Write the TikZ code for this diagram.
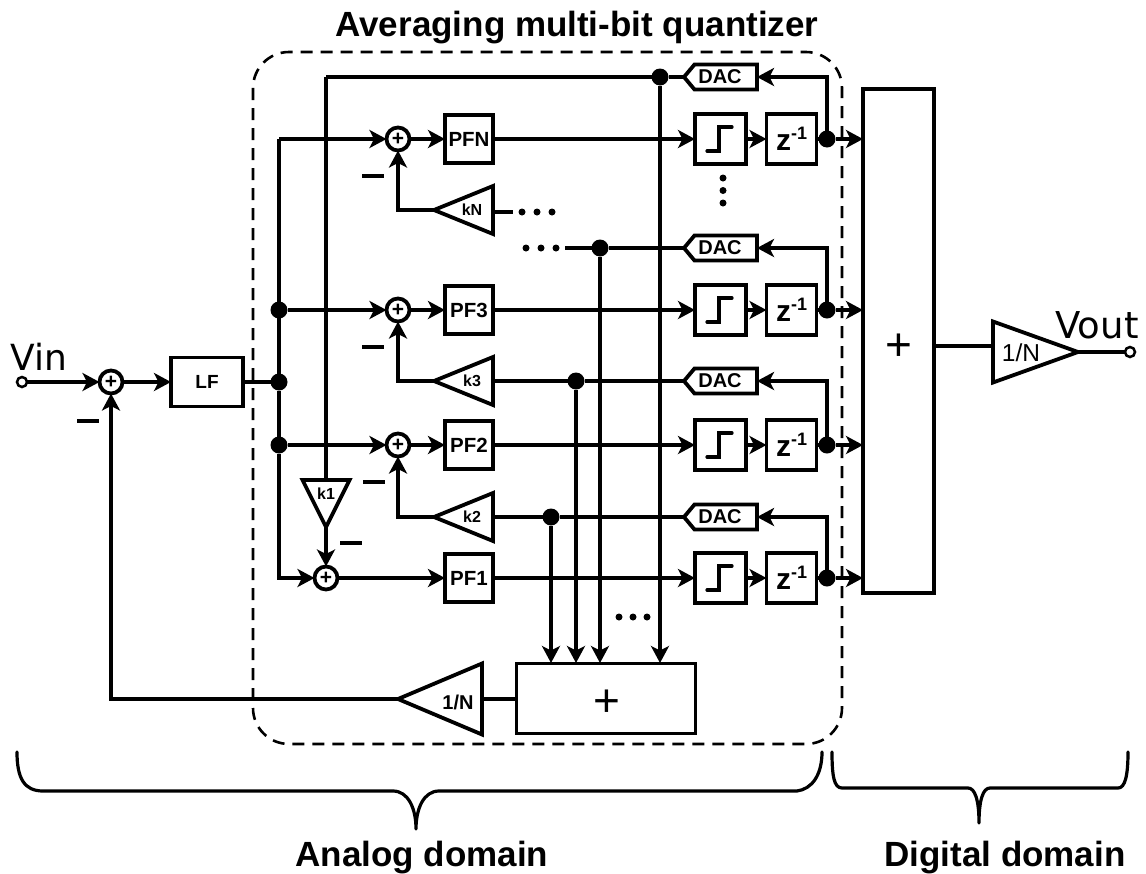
\documentclass[tikz,border=0pt]{standalone}
\usepackage{fontspec}
\setmainfont{Liberation Sans}
\newfontfamily\dejafont{DejaVu Sans}
\usetikzlibrary{arrows.meta,shapes.geometric,shapes.symbols}
\newcommand{\fsz}[1]{\fontsize{#1}{#1}\selectfont}

\begin{document}
\begin{tikzpicture}[x=1pt, y=-1pt, line width=3.8pt, line join=miter, font=\bfseries\fsz{20.5}, >={Stealth[length=17pt,width=18pt,inset=4.5pt]}]
\tikzset{
  block/.style={draw, inner sep=0pt, outer sep=0pt},
  sumnode/.style={draw, circle, fill=white, minimum size=23pt, inner sep=0pt, outer sep=0pt, font=\bfseries\fsz{21}},
  dot/.style={circle, fill=black, minimum size=17pt, inner sep=0pt, outer sep=0pt},
  smalldot/.style={circle, fill=black, minimum size=7pt, inner sep=0pt, outer sep=0pt},
  port/.style={draw, circle, fill=white, minimum size=10pt, inner sep=0pt, outer sep=0pt, line width=2.5pt},
  amp/.style={draw, isosceles triangle, isosceles triangle stretches, inner sep=0pt, outer sep=0pt, shape border rotate=#1},
  dacbox/.style={draw, signal, signal to=west, signal pointer angle=100, minimum width=73pt, minimum height=25pt, inner sep=0pt, outer sep=0pt, anchor=east},
  minus/.style={minimum width=22pt, minimum height=3.8pt, fill=black, inner sep=0pt, outer sep=0pt},
  title/.style={font=\bfseries\fsz{35}},
  brace/.style={line width=3.2pt, line cap=round, line join=round}
}
\useasboundingbox (0,0) rectangle (1146,873);

\node[title] (quantitle) at (577,28) {Averaging multi-bit quantizer};
\draw[line width=2.6pt, rounded corners=36pt, dash pattern=on 12pt off 8pt] (253,52) rectangle (842,744);

% input side
\node[port] (vin) at (22,382) {};
\node[font=\dejafont\fsz{36}, anchor=base] (vinlabel) at (39,370) {Vin};
\node[sumnode] (sum0) at (111,382) {+};
\node[block, minimum width=72pt, minimum height=49pt, font=\bfseries\fsz{19}] (lf) at (207,382) {LF};
\node[dot] (dotlf) at (279,382) {};
\node[minus] (minus0) at (88,421) {};
\draw[->] (vin) -- (sum0);
\draw[->] (sum0) -- (lf);
\draw (lf) -- (dotlf);

% rows
\foreach \nm/\lab/\y/\yd/\xs in {N/PFN/139/77/398, 3/PF3/310/248/398, 2/PF2/445/381/398, 1/PF1/578/517/326} {
  \node[sumnode] (sum\nm) at (\xs,\y) {+};
  \node[block, minimum width=48pt, minimum height=48pt] (pf\nm) at (469,\y) {\lab};
  \node[block, minimum width=51pt, minimum height=50pt] (qz\nm) at (720.5,\y) {};
  \node[block, minimum width=50pt, minimum height=50pt, font=\bfseries\fsz{30}] (zd\nm) at (791.5,\y) {z\raisebox{11pt}{\fsz{18}-1}};
  \node[dot] (out\nm) at (827,\y) {};
  \node[dacbox] (dac\nm) at (757,\yd) {};
  \node[font=\bfseries\fsz{20}] (ldac\nm) at (720,\yd) {DAC};
  \coordinate (in\nm) at (863,\y);
  \draw[->] (sum\nm) -- (pf\nm);
  \draw[->] (pf\nm) -- (qz\nm);
  \draw[->] (qz\nm) -- (zd\nm);
  \draw (zd\nm) -- (out\nm);
  \draw[->] (out\nm) -- (in\nm);
  \draw[->] (out\nm) |- (dac\nm.east);
  \draw[line width=3.2pt, line cap=round] (707,\y+12) -- (719,\y+12) -- (719,\y-12) -- (732,\y-12);
}

\foreach \y in {178,190.5,203} {\node[smalldot] (vd\y) at (723,\y) {};}

% loop gains
\foreach \nm/\lab/\y in {N/kN/210, 3/k3/381, 2/k2/517} {
  \node[amp=180, minimum width=48pt, minimum height=59pt, anchor=lower side] (k\nm) at (493,\y) {};
  \node[font=\bfseries\fsz{16}] (lk\nm) at (472,\y) {\lab};
  \draw[->] (k\nm.apex) -| (sum\nm);
}
\foreach \x/\y in {373/176, 373/347, 374/482, 351/543} {\node[minus] (m\x\y) at (\x,\y) {};}

% k1 branch
\coordinate (topk) at (326,77);
\node[amp=270, minimum width=47pt, minimum height=47pt, anchor=lower side] (k1) at (326,480) {};
\node[font=\bfseries\fsz{16}] (lk1) at (326,494) {k1};
\draw (k1.lower side) -- (topk);
\draw[->] (k1.apex) -- (sum1);

% adder in analog part
\node[block, minimum width=179pt, minimum height=70pt] (addA) at (606,698.5) {};
\node[font=\normalfont\fsz{46}] (plusA) at (607,703) {+};
\node[amp=180, minimum width=71pt, minimum height=84pt, anchor=lower side] (ampA) at (482,699) {};
\node[font=\bfseries\fsz{20}] (lampA) at (458,702) {1/N};
\draw (addA.west |- ampA.lower side) -- (ampA.lower side);
\draw[->] (ampA.apex) -| (sum0);
\foreach \nm/\x/\yd in {N/660/77, 3/600/248, k/576/381, h/551/517} {
  \node[dot] (fb\nm) at (\x,\yd) {};
  \draw[->] (fb\nm) -- (\x,663);
}
\draw (topk) -- (fbN) -- (dacN.west);
\draw (fb3) -- (dac3.west);
\draw (k3.lower side) -- (fbk) -- (dac2.west);
\draw (k2.lower side) -- (fbh) -- (dac1.west);
\draw (565,248) -- (fb3);
\draw (493,212) -- (513,212);
\foreach \x in {522,537,552} {\node[smalldot] (ea\x) at (\x,212) {};}
\foreach \x in {526,541,556} {\node[smalldot] (eb\x) at (\x,248) {};}
\foreach \x in {619,633,647} {\node[smalldot] (ec\x) at (\x,617) {};}

% vertical rail after LF
\coordinate (railtop) at (279,139);
\node[dot] (dot3) at (279,310) {};
\node[dot] (dot2) at (279,445) {};
\draw (dotlf) -- (railtop);
\draw (dotlf) -- (dot2);
\draw[->] (railtop) -- (sumN);
\draw[->] (dot3) -- (sum3);
\draw[->] (dot2) -- (sum2);
\draw[->] (dot2) |- (sum1);

% digital part
\node[block, minimum width=71pt, minimum height=504pt] (addD) at (898.5,341) {};
\node[font=\normalfont\fsz{46}] (plusD) at (899,347) {+};
\node[amp=0, minimum width=61pt, minimum height=85pt, anchor=lower side] (ampD) at (993,352) {};
\node[font=\normalfont\fsz{24.5}] (lampD) at (1021,353) {1/N};
\node[port] (vout) at (1130,352) {};
\node[font=\dejafont\fsz{37}, anchor=base] (voutlabel) at (1097,338) {Vout};
\draw (addD.east |- 0,346) -- (ampD.lower side |- 0,346);
\draw (ampD.apex) -- (vout);

% domain braces
\draw[brace] (17,752) .. controls (17,778) and (24,791) .. (43,791) -- (393,791) .. controls (408,791) and (416,808) .. (416,829) .. controls (416,808) and (424,791) .. (439,791) -- (797,791) .. controls (812,789) and (822,775) .. (822,752);
\draw[brace] (832,752) .. controls (832,776) and (834,788) .. (842,788) -- (968,788) .. controls (975,788) and (979,800) .. (979,823) .. controls (979,800) and (983,788) .. (990,788) -- (1118,788) .. controls (1125,788) and (1128,776) .. (1128,752);
\node[title] (analog) at (422,857.5) {Analog domain};
\node[title] (digital) at (1005,857.5) {Digital domain};
\end{tikzpicture}
\end{document}
